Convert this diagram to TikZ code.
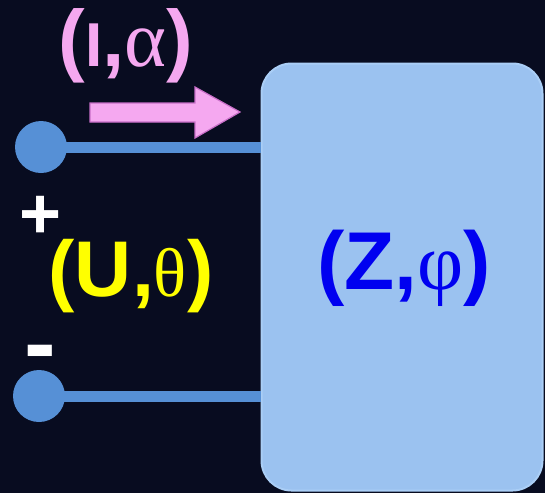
\documentclass[tikz,border=0pt]{standalone}
\usepackage{fontspec}
\setmainfont{Liberation Sans}
\newfontfamily\gk{Liberation Serif}
\begin{document}
\begin{tikzpicture}[x=1pt,y=-1pt]
\definecolor{bg}{RGB}{8,12,32}
\definecolor{boxfill}{RGB}{155,194,240}
\definecolor{boxedge}{RGB}{170,206,246}
\definecolor{wire}{RGB}{86,144,214}
\definecolor{pinkt}{RGB}{245,168,240}
\definecolor{pinkedge}{RGB}{200,110,200}
\definecolor{zblue}{RGB}{0,0,240}
\definecolor{yel}{RGB}{255,255,0}
\tikzset{
  wireline/.style={draw=wire, line width=11pt},
  terminal/.style={circle, fill=wire, minimum size=52pt, inner sep=0pt},
  label/.style={inner sep=0pt, anchor=base, font=\bfseries},
}
\fill[bg] (0,0) rectangle (545,493);
\useasboundingbox (0,0) rectangle (545,493);
% load box
\node[draw=boxedge, line width=2pt, fill=boxfill, rounded corners=30pt,
      minimum width=281pt, minimum height=427pt, inner sep=0pt] (Z) at (402,277) {};
% terminals
\node[terminal] (t1) at (41,147) {};
\node[terminal] (t2) at (39,396) {};
\coordinate (z1) at (Z.west |- t1);
\coordinate (z2) at (Z.west |- t2);
\draw[wireline] (t1.center) -- (z1);
\draw[wireline] (t2.center) -- (z2);
% current arrow
\coordinate (a1) at (240,112);
\filldraw[fill=pinkt, draw=pinkedge, line width=1.2pt, line join=miter]
  (90,103) -- (195,103) -- (195,87) -- (a1) -- (195,138) -- (195,122) -- (90,122) -- cycle;
% labels
\node[label, text=pinkt] (Ia) at (126,66)
  {\fontsize{80}{84}\selectfont(\fontsize{62}{64}\selectfont I\fontsize{80}{84}\selectfont,{\gk\mdseries\fontsize{80}{84}\selectfont\char"03B1})};
\node[label, text=yel] (Ut) at (131,296)
  {\fontsize{79}{84}\selectfont(U,{\gk\mdseries\fontsize{69}{72}\selectfont\char"03B8})};
\node[label, text=zblue] (Zp) at (404,289)
  {\fontsize{82}{86}\selectfont(Z,{\gk\mdseries\fontsize{80}{84}\selectfont\char"03C6})};
\node[inner sep=0pt, text=white, font=\bfseries\fontsize{72}{72}\selectfont] (plus) at (41,217) {+};
\node[inner sep=0pt, text=white, font=\bfseries\fontsize{95}{95}\selectfont] (minus) at (40,360) {-};
\end{tikzpicture}
\end{document}
